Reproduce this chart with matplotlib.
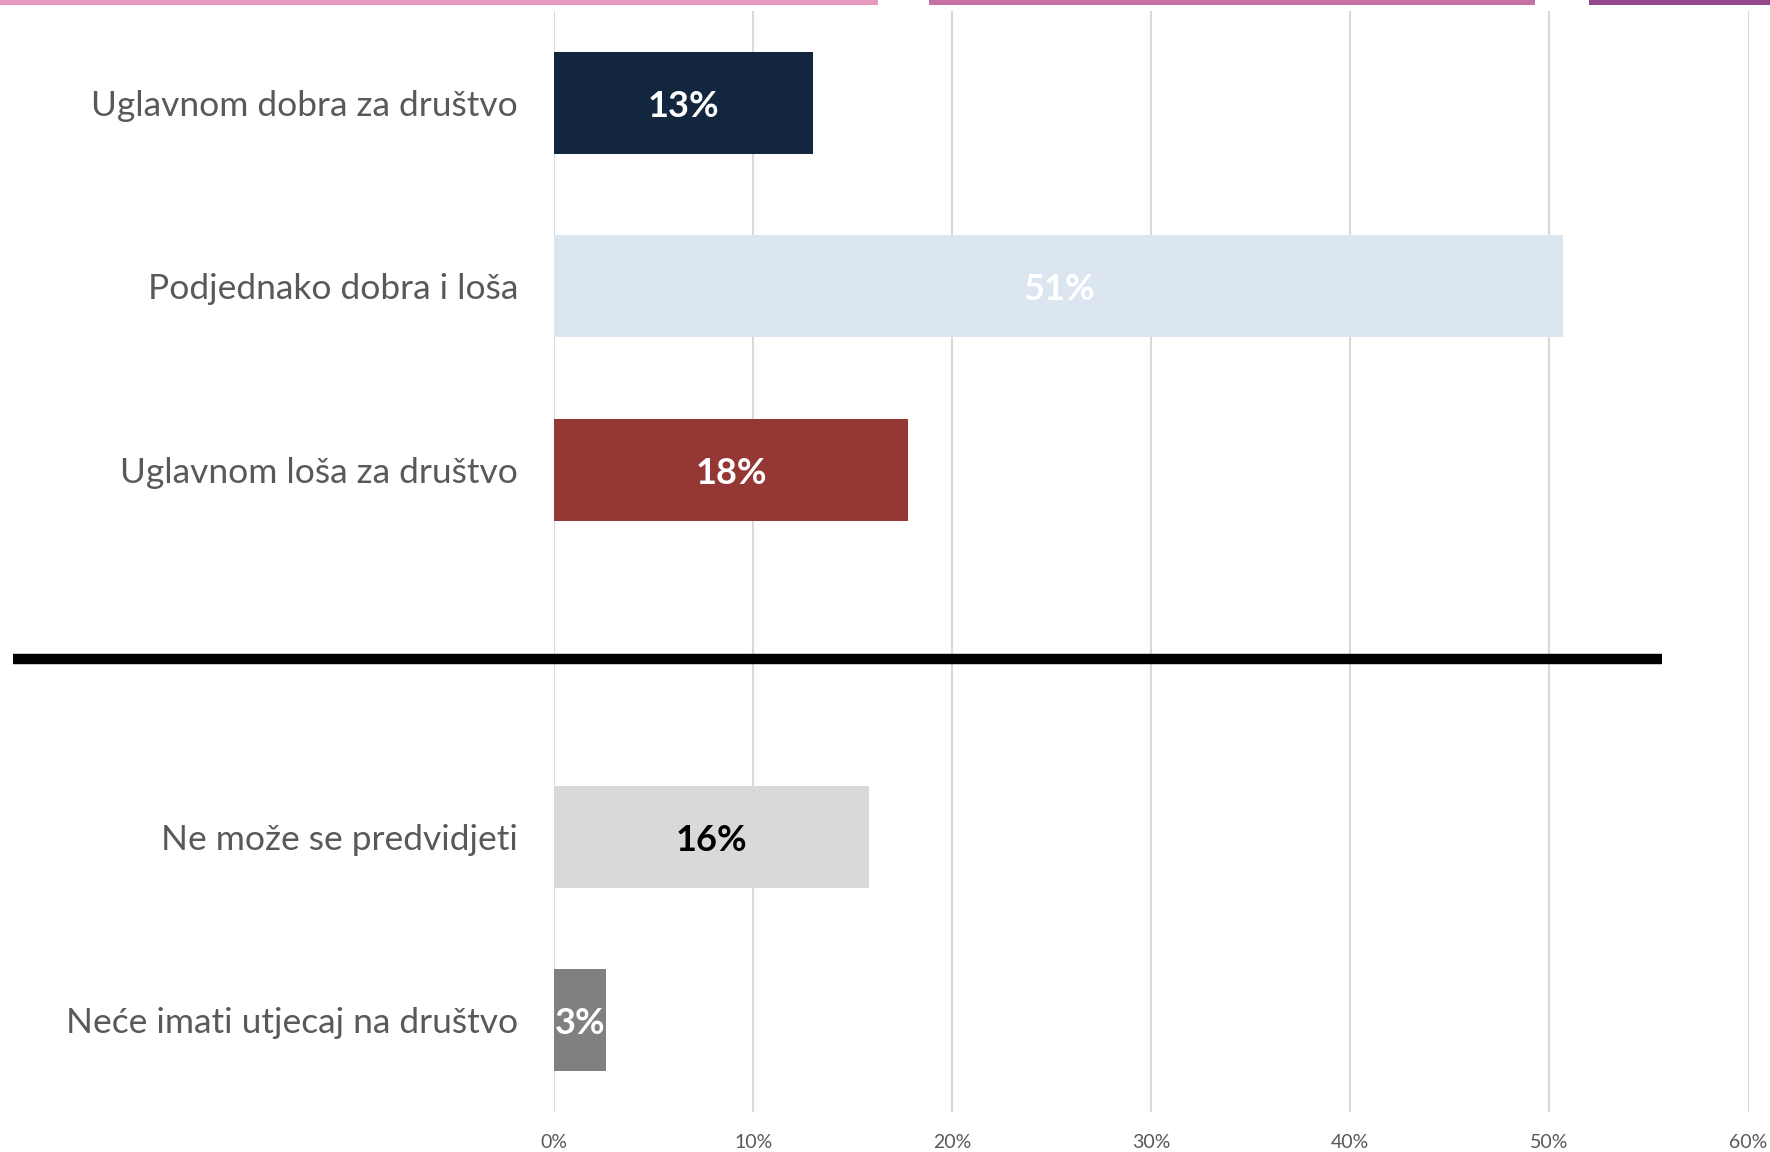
import matplotlib
matplotlib.use("Agg")
import matplotlib.pyplot as plt
from matplotlib.patches import Rectangle

plt.rcParams['font.family'] = ['Lato', 'DejaVu Sans']

# podaci
kategorije = ['Uglavnom dobra za društvo', 'Podjednako dobra i loša',
              'Uglavnom loša za društvo', 'Ne može se predvidjeti',
              'Neće imati utjecaj na društvo']
vrijednosti = [13.0, 50.7, 17.8, 15.8, 2.6]
oznake = ['13%', '51%', '18%', '16%', '3%']
pozicije = [0, 1, 2, 4, 5]
boje = ['#132640', '#DCE6F1', '#953735', '#D9D9D9', '#808080']
boje_oznaka = ['white', 'white', 'white', 'black', 'white']
x_ticks = [0, 10, 20, 30, 40, 50, 60]
x_tick_labels = ['0%', '10%', '20%', '30%', '40%', '50%', '60%']

# ukrasne trake na vrhu (x od, x do u udjelu slike)
trake_od = [0.0, 0.525, 0.898]
trake_do = [0.496, 0.867, 1.0]
trake_boje = ['#E699BF', '#C673A3', '#94488B']

fig = plt.figure(figsize=(17.7, 11.52), dpi=100)
ax = fig.add_axes([0.313, 0.0347, 0.6749, 0.9558])

ax.barh(pozicije, vrijednosti, height=0.555, color=boje, zorder=2)

for p, v, t, c in zip(pozicije, vrijednosti, oznake, boje_oznaka):
    ax.text(v / 2, p + 0.02, t, ha='center', va='center', color=c,
            fontsize=26, fontweight='bold', zorder=3)

ax.set_xlim(0, 60)
ax.set_ylim(5.5, -0.5)
ax.set_xticks(x_ticks)
ax.set_xticklabels(x_tick_labels)
ax.set_yticks(pozicije)
ax.set_yticklabels(kategorije)
ax.tick_params(axis='y', length=0, pad=26, labelsize=25.5, labelcolor='#595959')
ax.tick_params(axis='x', length=0, pad=16, labelsize=14, labelcolor='#595959')
ax.xaxis.grid(True, color='#D9D9D9', linewidth=1.5, zorder=0)
ax.set_axisbelow(True)
for s in ax.spines.values():
    s.set_visible(False)

# razdjelna crta
ax.plot([-0.4525, 0.9276], [3.03, 3.03], color='black', linewidth=7.5,
        transform=ax.get_yaxis_transform(), clip_on=False, zorder=4,
        solid_capstyle='butt')

for x0, x1, c in zip(trake_od, trake_do, trake_boje):
    fig.add_artist(Rectangle((x0, 1 - 5 / 1152), x1 - x0, 5 / 1152,
                             transform=fig.transFigure, color=c, lw=0))

fig.savefig('out.png', dpi=100)
